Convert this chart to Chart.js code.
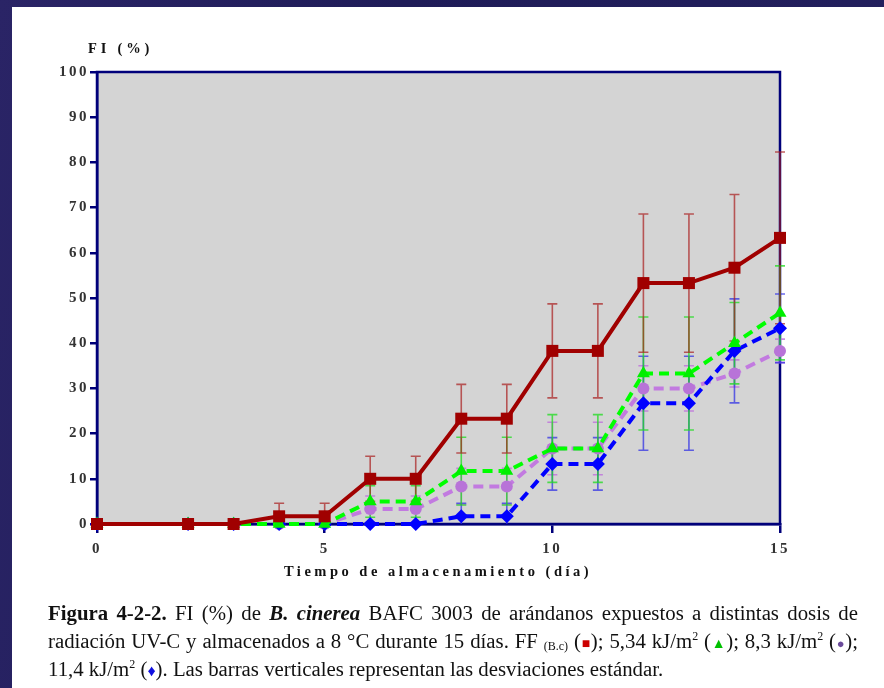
<!DOCTYPE html>
<html>
<head>
<meta charset="utf-8">
<script src="https://cdn.jsdelivr.net/npm/chart.js@4.4.1/dist/chart.umd.min.js"></script>
<style>
  html, body { margin: 0; padding: 0; }
  body { width: 884px; height: 688px; overflow: hidden; position: relative;
    background: linear-gradient(100deg, #2a2466 0%, #1f1c58 40%, #23205e 100%); }
  #panel { position: absolute; left: 12px; top: 7px; right: 0; bottom: 0; background: #ffffff; }
  #wrap { position: absolute; left: 0; top: 0; width: 884px; height: 600px; }
  .ttl { position: absolute; font-family: "Liberation Serif", "Times New Roman", serif; font-weight: bold; color: #111; white-space: nowrap; }
  #ytitle { left: 88px; top: 40px; font-size: 14.5px; letter-spacing: 3.8px; }
  #xtitle { left: 0; width: 876px; text-align: center; top: 563px; font-size: 14.5px; letter-spacing: 3.5px; }
  #caption { position: absolute; left: 48px; top: 599px; width: 810px; font-family: "Liberation Serif", "Times New Roman", serif; font-size: 20.8px; color: #111; }
  #caption .ln { height: 28px; line-height: 28px; overflow: visible; text-align: justify; text-align-last: justify; white-space: nowrap; }
  #caption .last { text-align: left; text-align-last: left; }
  .sym { line-height: 0; }
  sub { font-size: 12px; vertical-align: -2px; line-height: 0; }
  sup { font-size: 12px; vertical-align: 8px; line-height: 0; }
</style>
</head>
<body>
<div id="panel"></div>
<div id="wrap"><canvas id="c" width="884" height="600"></canvas></div>
<div class="ttl" id="ytitle">FI (%)</div>
<div class="ttl" id="xtitle">Tiempo de almacenamiento (día)</div>
<div id="caption">
  <div class="ln"><b>Figura 4-2-2.</b> FI (%) de <b><i>B. cinerea</i></b> BAFC 3003 de arándanos expuestos a distintas dosis de</div>
  <div class="ln">radiación UV-C y almacenados a 8 °C durante 15 días. FF <sub>(B.c)</sub> (<span class="sym" style="color:#cc0000;font-size:14px">■</span>); 5,34 kJ/m<sup>2</sup> (<span class="sym" style="color:#00c000;font-size:14px">▲</span>); 8,3 kJ/m<sup>2</sup> (<span class="sym" style="color:#6a4a9a;font-size:13px">●</span>);</div>
  <div class="ln last">11,4 kJ/m<sup>2</sup> (<span class="sym" style="color:#1010e0;font-size:16px">♦</span>). Las barras verticales representan las desviaciones estándar.</div>
</div>
<script>
// ---- data ----
const days = [0, 2, 3, 4, 5, 6, 7, 8, 9, 10, 11, 12, 13, 14, 15];
const ffBc   = [0, 0, 0, 1.7, 1.7, 10, 10, 23.3, 23.3, 38.3, 38.3, 53.3, 53.3, 56.7, 63.3];
const ffBcSd = [0, 0, 0, 2.9, 2.9, 5, 5, 7.6, 7.6, 10.4, 10.4, 15.3, 15.3, 16.2, 19];
const uv534   = [0, 0, 0, 0, 0, 5, 5, 11.7, 11.7, 16.7, 16.7, 33.3, 33.3, 40, 46.7];
const uv534Sd = [0, 0, 0, 0, 0, 3.5, 3.5, 7.5, 7.5, 7.5, 7.5, 12.5, 12.5, 9, 10.4];
const uv83   = [0, 0, 0, 0, 0, 3.3, 3.3, 8.3, 8.3, 16.7, 16.7, 30, 30, 33.3, 38.3];
const uv83Sd = [0, 0, 0, 0, 0, 2.9, 2.9, 4, 4, 5.8, 5.8, 5, 5, 3, 2.6];
const uv114   = [0, 0, 0, 0, 0, 0, 0, 1.7, 1.7, 13.3, 13.3, 26.7, 26.7, 38.3, 43.3];
const uv114Sd = [0, 0, 0, 0, 0, 0, 0, 2.9, 2.9, 5.8, 5.8, 10.4, 10.4, 11.5, 7.6];
const xTicks = [0, 5, 10, 15];
const yTicks = [0, 10, 20, 30, 40, 50, 60, 70, 80, 90, 100];

const pts = (ys) => days.map((d, i) => ({ x: d, y: ys[i] }));

const NAVY = '#00007a';

const plotBg = {
  id: 'plotBg',
  beforeDraw(chart) {
    const { ctx, chartArea: a } = chart;
    ctx.save();
    ctx.fillStyle = '#d4d4d4';
    ctx.fillRect(a.left, a.top, a.right - a.left, a.bottom - a.top);
    ctx.restore();
    ctx.letterSpacing = '2.5px';
  },
  afterDraw(chart) {
    chart.ctx.letterSpacing = '0px';
  },
  beforeDatasetsDraw(chart) {
    const { ctx, chartArea: a } = chart;
    ctx.save();
    ctx.strokeStyle = NAVY;
    ctx.lineWidth = 2.5;
    ctx.strokeRect(a.left, a.top, a.right - a.left, a.bottom - a.top);
    ctx.restore();
  }
};

const errorBars = {
  id: 'errorBars',
  beforeDatasetsDraw(chart) {
    const { ctx, chartArea: a, scales: { x, y } } = chart;
    ctx.save();
    ctx.beginPath();
    ctx.rect(a.left - 10, a.top - 1, a.right - a.left + 20, a.bottom - a.top + 1);
    ctx.clip();
    for (let di = chart.data.datasets.length - 1; di >= 0; di--) {
      const ds = chart.data.datasets[di];
      if (!ds.sd) continue;
      ctx.strokeStyle = ds.errColor;
      ctx.lineWidth = 1.6;
      ds.data.forEach((p, i) => {
        const e = ds.sd[i];
        if (!e) return;
        const px = x.getPixelForValue(p.x);
        const top = y.getPixelForValue(p.y + e);
        const bot = y.getPixelForValue(p.y - e);
        ctx.beginPath();
        ctx.moveTo(px, top); ctx.lineTo(px, bot);
        ctx.moveTo(px - 5, top); ctx.lineTo(px + 5, top);
        ctx.moveTo(px - 5, bot); ctx.lineTo(px + 5, bot);
        ctx.stroke();
      });
    }
    ctx.restore();
  }
};

new Chart(document.getElementById('c'), {
  type: 'line',
  data: {
    datasets: [
      { label: 'FF (B.c)', data: pts(ffBc), sd: ffBcSd, errColor: 'rgba(170,30,30,0.7)',
        borderColor: '#a00000', backgroundColor: '#a00000', borderWidth: 4, clip: false,
        pointStyle: 'rect', pointRadius: 8.5, pointBorderWidth: 0 },
      { label: '5,34 kJ/m2', data: pts(uv534), sd: uv534Sd, errColor: 'rgba(30,220,30,0.75)',
        borderColor: '#00ff00', backgroundColor: '#00ee00', borderWidth: 4, borderDash: [10, 6], clip: false,
        pointStyle: 'triangle', pointRadius: 7.5, pointBorderWidth: 0 },
      { label: '11,4 kJ/m2', data: pts(uv114), sd: uv114Sd, errColor: 'rgba(40,40,230,0.7)',
        borderColor: '#0000ff', backgroundColor: '#0000ff', borderWidth: 4, borderDash: [10, 6], clip: false,
        pointStyle: 'rectRot', pointRadius: 7, pointBorderWidth: 0 },
      { label: '8,3 kJ/m2', data: pts(uv83), sd: uv83Sd, errColor: 'rgba(190,110,220,0.8)',
        borderColor: '#c27ae0', backgroundColor: '#b873d8', borderWidth: 4, borderDash: [10, 6], clip: false,
        pointStyle: 'circle', pointRadius: 6, pointBorderWidth: 0 }
    ]
  },
  options: {
    responsive: false,
    animation: false,
    devicePixelRatio: 1,
    layout: { padding: { left: 0, top: 72, right: 104, bottom: 0 } },
    plugins: { legend: { display: false }, tooltip: { enabled: false } },
    elements: { line: { tension: 0 } },
    scales: {
      x: {
        type: 'linear', min: 0, max: 15,
        afterBuildTicks: (s) => { s.ticks = xTicks.map(v => ({ value: v })); },
        afterFit: (s) => { s.height = 76; },
        grid: { drawOnChartArea: false, drawTicks: true, tickLength: 9, color: NAVY, lineWidth: 2.5 },
        border: { display: true, color: NAVY, width: 2.5 },
        ticks: { color: '#333', font: { family: 'Liberation Serif', size: 15, weight: 'bold' }, padding: 7, maxRotation: 0 }
      },
      y: {
        type: 'linear', min: 0, max: 100,
        afterBuildTicks: (s) => { s.ticks = yTicks.map(v => ({ value: v })); },
        afterFit: (s) => { s.width = 97; },
        grid: { drawOnChartArea: false, drawTicks: true, tickLength: 7, color: NAVY, lineWidth: 2.5 },
        border: { display: true, color: NAVY, width: 2.5 },
        ticks: { color: '#333', font: { family: 'Liberation Serif', size: 15, weight: 'bold' }, padding: 1 }
      }
    }
  },
  plugins: [plotBg, errorBars]
});
</script>
</body>
</html>
